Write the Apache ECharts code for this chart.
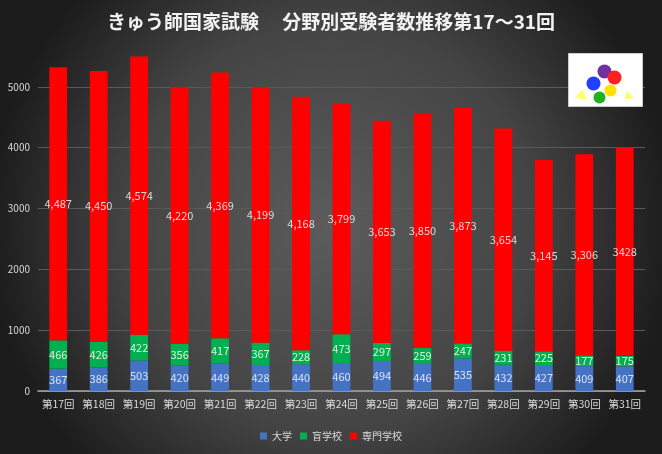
<!DOCTYPE html>
<html><head><meta charset="utf-8">
<script src="https://cdn.jsdelivr.net/npm/echarts@6/dist/echarts.min.js"></script>
<style>html,body{margin:0;padding:0;background:#262626}#c{width:662px;height:454px}</style>
</head><body><div id="c"></div>
<script>
const categories = ['第17回','第18回','第19回','第20回','第21回','第22回','第23回','第24回','第25回','第26回','第27回','第28回','第29回','第30回','第31回'];
const daigaku = [367,386,503,420,449,428,440,460,494,446,535,432,427,409,407];
const mougakkou = [466,426,422,356,417,367,228,473,297,259,247,231,225,177,175];
const senmon = [4487,4450,4574,4220,4369,4199,4168,3799,3653,3850,3873,3654,3145,3306,3428];
const senmonLabels = ['4,487','4,450','4,574','4,220','4,369','4,199','4,168','3,799','3,653','3,850','3,873','3,654','3,145','3,306','3428'];
const seriesNames = ['大学','盲学校','専門学校'];
const titleText = 'きゅう師国家試験　 分野別受験者数推移第17～31回';

const font = '"Noto Sans CJK JP","Noto Sans",sans-serif';
const chart = echarts.init(document.getElementById('c'));
const lbl = (color) => ({show:true, position:'inside', color, fontSize:11, fontFamily:font});
chart.setOption({
  backgroundColor: {type:'radial', x:0.5, y:0.5, r:0.75,
    colorStops:[{offset:0,color:'#5c5c5c'},{offset:0.6,color:'#444'},{offset:1,color:'#1c1c1c'}]},
  title: {text:titleText, left:'center', top:7,
    textStyle:{color:'#f2f2f2', fontSize:19, fontWeight:'bold', fontFamily:font}},
  legend: {bottom:8, left:'center', itemWidth:7, itemHeight:7, itemGap:8, icon:'rect',
    textStyle:{color:'#d9d9d9', fontSize:10, fontFamily:font}, data:seriesNames},
  grid: {left:38, right:17, top:26, bottom:63},
  xAxis: {type:'category', data:categories,
    axisLine:{lineStyle:{color:'#a6a6a6', width:1.5}}, axisTick:{show:false},
    axisLabel:{color:'#d9d9d9', fontSize:10.5, fontFamily:font, margin:8, interval:0}},
  yAxis: {type:'value', min:0, max:6000, interval:1000,
    axisLine:{show:false}, axisTick:{show:false},
    axisLabel:{color:'#d9d9d9', fontSize:10, fontFamily:font, margin:8,
      formatter:v => v >= 6000 ? '' : String(v)},
    splitLine:{lineStyle:{color:['#5a5a5a','#5a5a5a','#5a5a5a','#5a5a5a','#5a5a5a','#5a5a5a','rgba(0,0,0,0)'], width:1}}},
  series: [
    {name:seriesNames[0], type:'bar', stack:'a', data:daigaku, barWidth:'44%',
      itemStyle:{color:'#4472C4'}, label:lbl('#dae3f3')},
    {name:seriesNames[1], type:'bar', stack:'a', data:mougakkou,
      itemStyle:{color:'#00B050'}, label:lbl('#e2f0d9')},
    {name:seriesNames[2], type:'bar', stack:'a', data:senmon,
      itemStyle:{color:'#FF0000'},
      label:Object.assign(lbl('#d9d9d9'), {formatter:p => senmonLabels[p.dataIndex]})}
  ],
  graphic: [{type:'group', left:568, top:53, z:100, children:[
    {type:'rect', z:100, shape:{x:0,y:0,width:74,height:53}, style:{fill:'#ffffff', stroke:'#cccccc'}},
    {type:'polygon', z:101, shape:{points:[[6,44],[14,36],[18,46]]}, style:{fill:'#ffff66'}},
    {type:'polygon', z:101, shape:{points:[[58,38],[66,44],[56,46]]}, style:{fill:'#ffff66'}},
    {type:'circle', z:101, shape:{cx:36,cy:18,r:7}, style:{fill:'#7030a0'}},
    {type:'circle', z:101, shape:{cx:46,cy:24,r:7}, style:{fill:'#ff2020'}},
    {type:'circle', z:101, shape:{cx:25,cy:30,r:7}, style:{fill:'#2040ff'}},
    {type:'circle', z:101, shape:{cx:42,cy:37,r:6}, style:{fill:'#ffe000'}},
    {type:'circle', z:101, shape:{cx:31,cy:44,r:6}, style:{fill:'#20b020'}}
  ]}]
});
</script></body></html>
